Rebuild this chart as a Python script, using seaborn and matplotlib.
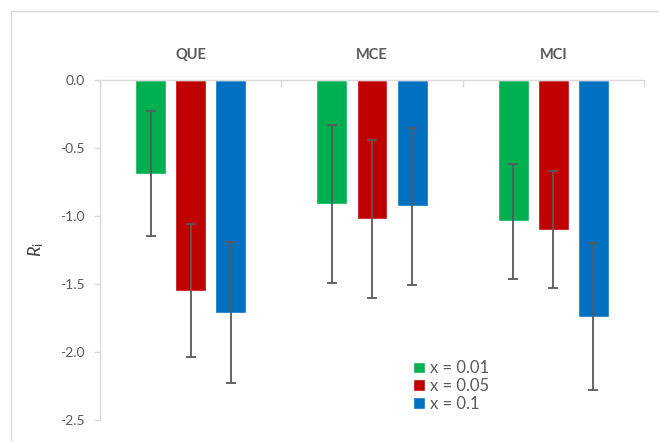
import matplotlib
matplotlib.use("Agg")
import matplotlib.pyplot as plt
import seaborn as sns
import pandas as pd
import numpy as np
from matplotlib.patches import Rectangle

categories = ["QUE", "MCE", "MCI"]
series = ["x = 0.01", "x = 0.05", "x = 0.1"]
vals_001 = [-0.69, -0.91, -1.04]
vals_005 = [-1.55, -1.02, -1.10]
vals_01 = [-1.71, -0.93, -1.74]
err_001 = [0.46, 0.58, 0.42]
err_005 = [0.49, 0.58, 0.43]
err_01 = [0.52, 0.58, 0.54]
yticks = [0.0, -0.5, -1.0, -1.5, -2.0, -2.5]
colors = ["#00B050", "#C00000", "#0070C0"]

rows = []
for s, vals in zip(series, [vals_001, vals_005, vals_01]):
    for c, v in zip(categories, vals):
        rows.append({"cat": c, "series": s, "val": v})
df = pd.DataFrame(rows)
errs = [err_001, err_005, err_01]

sns.set_style("white")
plt.rcParams["font.family"] = ["Lato", "DejaVu Sans"]
plt.rcParams["axes.unicode_minus"] = False
plt.rcParams["mathtext.fontset"] = "custom"
plt.rcParams["mathtext.it"] = "Lato:italic"
plt.rcParams["mathtext.rm"] = "Lato"

W, H = 659, 442
fig = plt.figure(figsize=(W / 100, H / 100), dpi=100)
ax = fig.add_axes([100 / W, 1 - 420 / H, 544 / W, 340 / H])

sns.barplot(data=df, x="cat", y="val", hue="series", order=categories,
            hue_order=series, palette=colors, width=0.663, gap=0.23,
            saturation=1, errorbar=None, ax=ax, legend=True)

for cont, e in zip(ax.containers, errs):
    xs = [p.get_x() + p.get_width() / 2 for p in cont.patches]
    ys = [p.get_y() + p.get_height() for p in cont.patches]
    ax.errorbar(xs, ys, yerr=e, fmt="none", ecolor="#595959",
                elinewidth=1.3, capsize=3.5, capthick=1.3, zorder=5)

gray = "#595959"
ax.set_ylim(-2.5, 0)
ax.set_xlim(-0.5, 2.5)
ax.set_yticks(yticks)
ax.set_yticklabels([f"{t:.1f}" for t in yticks])
ax.tick_params(axis="y", colors="#d9d9d9", labelcolor=gray, labelsize=10,
               direction="out", length=4, width=1, pad=7, left=True)
ax.xaxis.tick_top()
ax.set_xticks([0, 1, 2])
ax.set_xticklabels(categories, fontweight="bold")
ax.tick_params(axis="x", which="major", length=0, labelcolor=gray,
               labelsize=10.5, pad=13)
ax.set_xticks([-0.5, 0.5, 1.5, 2.5], minor=True)
ax.tick_params(axis="x", which="minor", top=True, bottom=False,
               direction="in", length=5, width=1, colors="#d9d9d9")
ax.set_xlabel("")
ax.set_ylabel(r"$R_\mathrm{i}$", fontsize=13, color="#404040")
ax.yaxis.set_label_coords(-54 / 544, 0.5)

for side in ["right", "bottom"]:
    ax.spines[side].set_visible(False)
for side in ["left", "top"]:
    ax.spines[side].set_color("#d9d9d9")
    ax.spines[side].set_linewidth(1)
ax.grid(False)

leg = ax.legend(loc="upper left", bbox_to_anchor=(0.56, 0.2), frameon=False,
                fontsize=12, handlelength=0.7, handleheight=0.7,
                handletextpad=0.35, labelspacing=0.1, borderpad=0)
for t in leg.get_texts():
    t.set_color(gray)

fig.patches.append(Rectangle((11 / W, -0.1), 1.2, 1.1 - 11 / H, transform=fig.transFigure,
                             fill=False, edgecolor="#d9d9d9", linewidth=1))

fig.savefig("out.png", dpi=100)
